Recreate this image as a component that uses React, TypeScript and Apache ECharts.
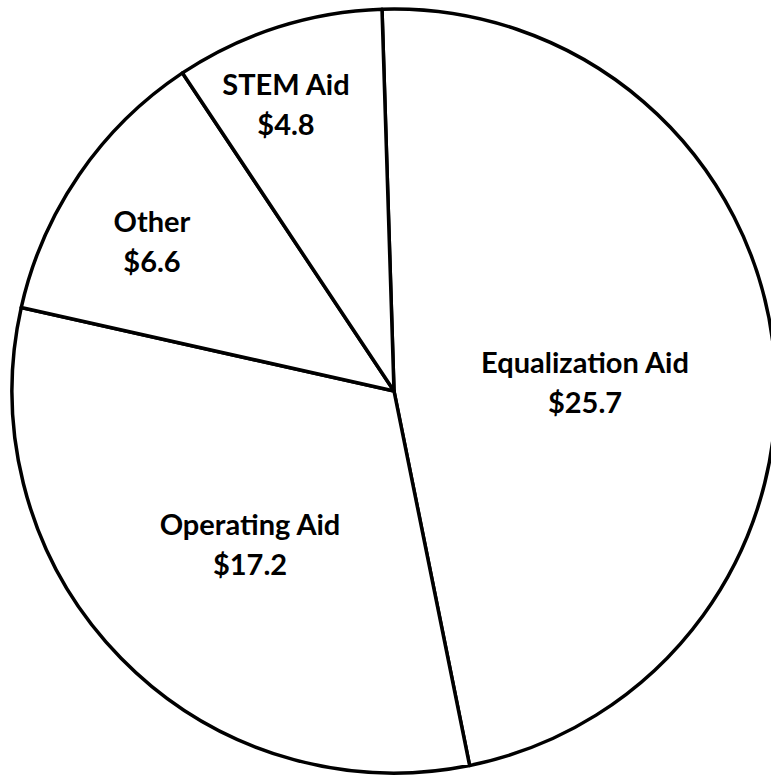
import React, { useEffect, useRef } from "react";
import * as echarts from "echarts";

const categories = ["Equalization Aid", "Operating Aid", "Other", "STEM Aid"];
const values = [25.7, 17.2, 6.6, 4.8];
const labelPositions: [number, number][] = [
  [585, 381],
  [250, 543],
  [152, 240],
  [286, 103],
];

export default function App() {
  const ref = useRef<HTMLDivElement>(null);
  useEffect(() => {
    if (!ref.current) return;
    const chart = echarts.init(ref.current, null, { renderer: "svg" });
    chart.setOption({
      animation: false,
      backgroundColor: "#ffffff",
      series: [
        {
          type: "pie",
          center: [394, 391],
          radius: [0, 382],
          startAngle: 91.8,
          clockwise: true,
          avoidLabelOverlap: false,
          silent: true,
          data: categories.map((name, i) => ({ name, value: values[i] })),
          itemStyle: { color: "#ffffff", borderColor: "#000000", borderWidth: 3.5 },
          label: {
            show: true,
            position: "inside",
            formatter: (p: any) => `${p.name}\n$${p.value.toFixed(1)}`,
            fontFamily: "Lato",
            fontWeight: "bold",
            fontSize: 29,
            lineHeight: 40,
            color: "#000000",
            align: "center",
          },
          labelLine: { show: false },
          labelLayout: (params: any) => {
            const pos = labelPositions[params.dataIndex];
            return { x: pos[0], y: pos[1], align: "center", verticalAlign: "middle" };
          },
        },
      ],
    });
    return () => chart.dispose();
  }, []);
  return (
    <div
      ref={ref}
      style={{ position: "fixed", left: 0, top: 0, width: 771, height: 775 }}
    />
  );
}
